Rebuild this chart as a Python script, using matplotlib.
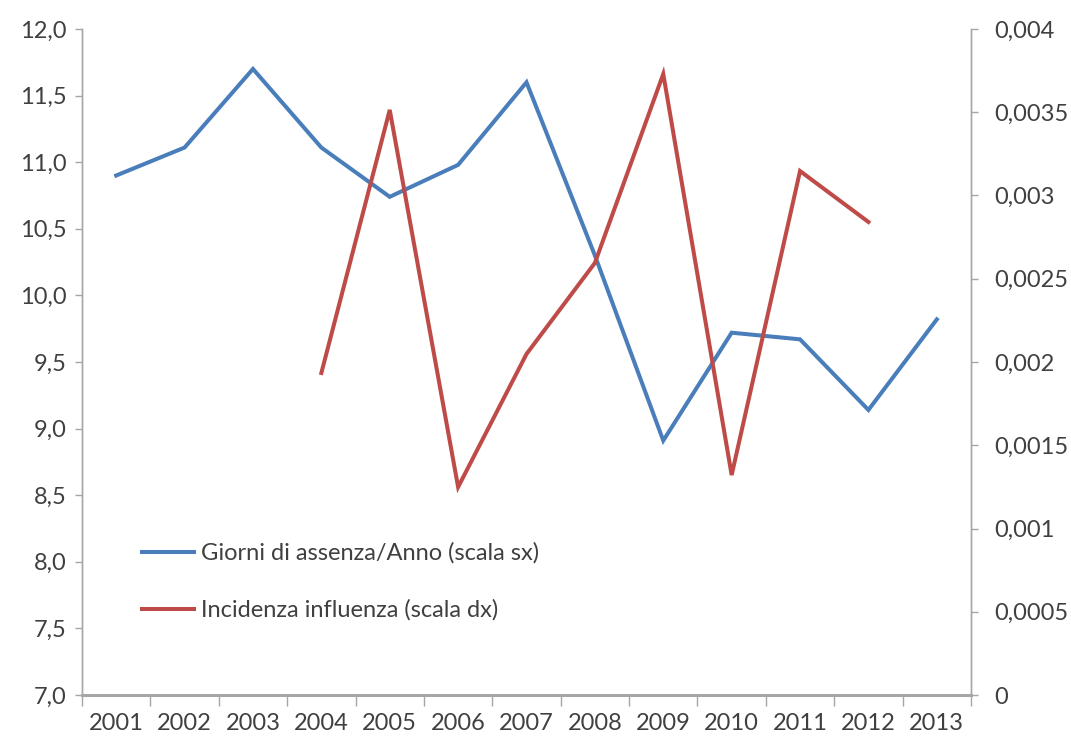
import numpy as np
import matplotlib
matplotlib.use("Agg")
import matplotlib.pyplot as plt
from matplotlib.ticker import FuncFormatter, FixedLocator

plt.rcParams['font.family'] = ['Lato', 'DejaVu Sans']

years = ['2001', '2002', '2003', '2004', '2005', '2006', '2007',
         '2008', '2009', '2010', '2011', '2012', '2013']
giorni = [10.90, 11.11, 11.70, 11.11, 10.74, 10.98, 11.60,
          10.30, 8.91, 9.72, 9.67, 9.14, 9.82]
# incidenza starts in 2004, ends in 2012
incid_years = ['2004', '2005', '2006', '2007', '2008', '2009', '2010', '2011', '2012']
incidenza = [0.001934, 0.003514, 0.001249, 0.002048, 0.002595,
             0.00373, 0.001321, 0.003147, 0.002841]

blue = '#4A7EBB'
red = '#BE4B48'
txt = '#404040'
grey = '#A6A6A6'
fs = 17

fig = plt.figure(figsize=(10.71, 7.42), dpi=100)
ax = fig.add_axes([82/1071, 1-695/742, (971-82)/1071, (695-29)/742])
ax2 = ax.twinx()

x = np.arange(len(years))
xi = [years.index(y) for y in incid_years]

l1, = ax.plot(x, giorni, color=blue, lw=2.9, solid_joinstyle='miter')
l2, = ax2.plot(xi, incidenza, color=red, lw=2.9, solid_joinstyle='miter')

ax.set_xlim(-0.5, len(years)-0.5)
ax.set_ylim(7.0, 12.0)
ax2.set_ylim(0, 0.004)

ax.set_yticks(np.arange(7.0, 12.01, 0.5))
ax.yaxis.set_major_formatter(FuncFormatter(lambda v, p: f"{v:.1f}".replace('.', ',')))
r_ticks = [0, 0.0005, 0.001, 0.0015, 0.002, 0.0025, 0.003, 0.0035, 0.004]
r_labels = ['0', '0,0005', '0,001', '0,0015', '0,002', '0,0025', '0,003', '0,0035', '0,004']
ax2.set_yticks(r_ticks)
ax2.set_yticklabels(r_labels)

ax.set_xticks(x)
ax.set_xticklabels(years)
ax.xaxis.set_minor_locator(FixedLocator(np.arange(-0.5, len(years), 1)))
ax.tick_params(axis='x', which='major', length=0, pad=13, labelsize=fs, labelcolor=txt)
ax.tick_params(axis='x', which='minor', length=8, width=1, color=grey, direction='out')
ax.tick_params(axis='y', length=5, width=1, color=grey, labelsize=fs, labelcolor=txt, pad=6)
ax2.tick_params(axis='y', length=5, width=1, color=grey, labelsize=fs, labelcolor=txt, pad=12)

for a in (ax, ax2):
    a.spines['top'].set_visible(False)
    a.spines['left'].set_color(grey)
    a.spines['right'].set_color(grey)
    a.spines['bottom'].set_color(grey)
    a.spines['left'].set_linewidth(1)
    a.spines['right'].set_linewidth(1)
    a.spines['bottom'].set_linewidth(2)

leg = ax2.legend([l1, l2], ['Giorni di assenza/Anno (scala sx)', 'Incidenza influenza (scala dx)'],
                 loc='center left', bbox_to_anchor=(0.068, 0.17), frameon=False,
                 fontsize=fs, labelcolor=txt, handlelength=2.2, handletextpad=0.3,
                 labelspacing=1.5, borderaxespad=0, borderpad=0)

fig.savefig('out.png', dpi=100)
